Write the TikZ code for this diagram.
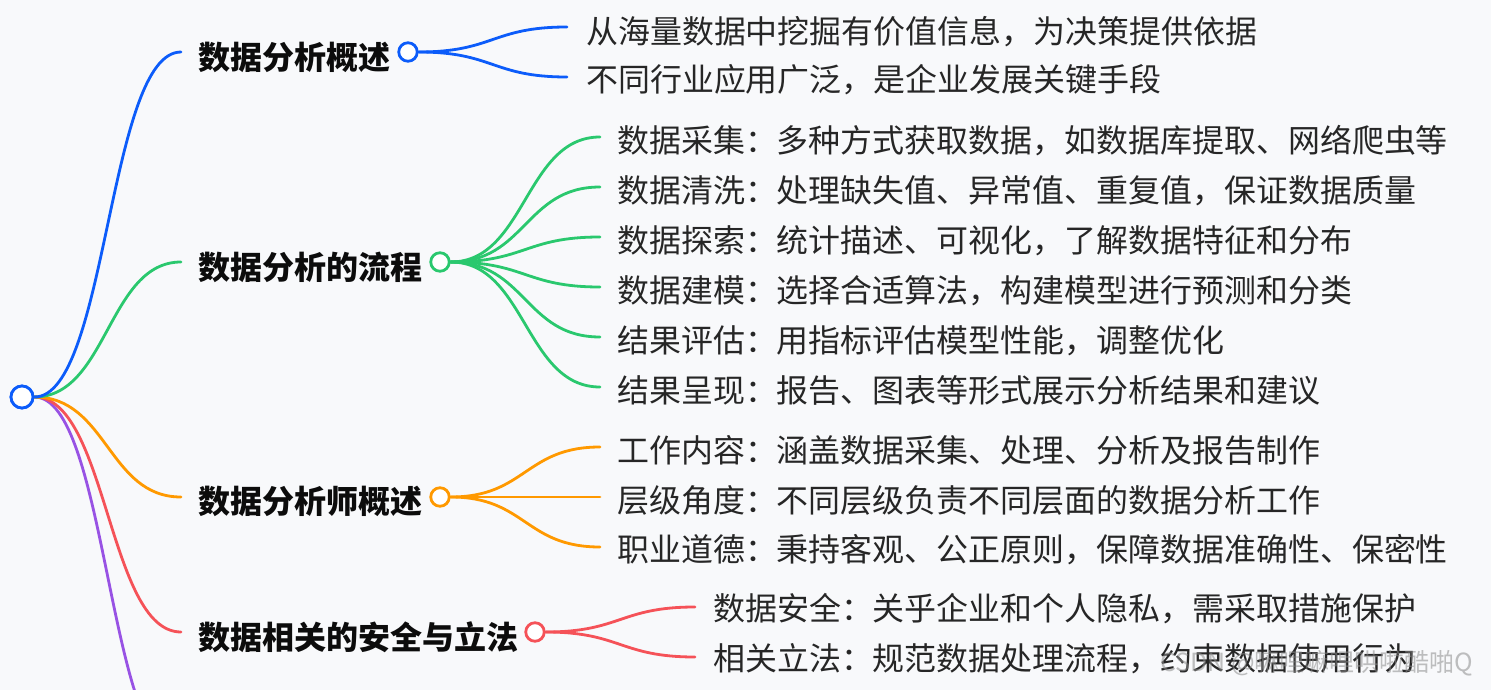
\documentclass[tikz,border=0pt]{standalone}
\usepackage{fontspec}
\setmainfont{Noto Sans CJK SC}
\definecolor{bg}{RGB}{248,249,251}
\definecolor{cblue}{RGB}{12,92,250}
\definecolor{cgreen}{RGB}{42,200,110}
\definecolor{corange}{RGB}{255,153,0}
\definecolor{cred}{RGB}{245,82,88}
\definecolor{cpurple}{RGB}{152,82,228}
\definecolor{labc}{RGB}{12,12,12}
\definecolor{leafc}{RGB}{38,38,38}
\begin{document}
\begin{tikzpicture}[x=1pt,y=-1pt,
  link/.style={line width=2.8pt, line cap=round},
  dot/.style={circle, draw, fill=white, line width=2.8pt, minimum size=18.5pt, inner sep=0pt},
  lab/.style={anchor=base west, inner sep=0pt, text=labc, font=\fontsize{32}{32}\selectfont\bfseries},
  leafa/.style={anchor=base west, inner sep=0pt, text=leafc, font=\fontsize{31.95}{32}\selectfont},
  wm/.style={anchor=west, inner sep=0pt, text=black!45, opacity=0.55, font=\fontsize{25}{25}\selectfont}]
\fill[bg] (0,0) rectangle (1491,690);
\useasboundingbox (0,0) rectangle (1491,690);
\clip (0,0) rectangle (1491,690);

% root
\node[dot, draw=cblue, minimum size=22pt] (r) at (22,397) {};

% branch labels and circles
\node[lab] (l1) at (198,69.2) {数据分析概述};
\node[lab] (l2) at (198,279.2) {数据分析的流程};
\node[lab] (l3) at (198,513.2) {数据分析师概述};
\node[lab] (l4) at (198,649.2) {数据相关的安全与立法};

\coordinate (e1) at (181,52);
\coordinate (e2) at (181,262);
\coordinate (e3) at (181,497);
\coordinate (e4) at (181,632);
\coordinate (e5) at (181,756);

\draw[link,cpurple] (r.east) .. controls +(73,0) and +(-73,0) .. (e5);
\draw[link,cred] (r.east) .. controls +(73,0) and +(-73,0) .. (e4);
\draw[link,corange] (r.east) .. controls +(73,0) and +(-73,0) .. (e3);
\draw[link,cgreen] (r.east) .. controls +(73,0) and +(-73,0) .. (e2);
\draw[link,cblue] (r.east) .. controls +(73,0) and +(-73,0) .. (e1);
\node[dot, draw=cblue, minimum size=22pt] at (r) {};

\node[dot, draw=cblue] (c1) at (408,52) {};
\node[dot, draw=cgreen] (c2) at (440,262) {};
\node[dot, draw=corange] (c3) at (440,497) {};
\node[dot, draw=cred] (c4) at (535,632) {};

% branch 1 children
\coordinate (a1) at (567,27);
\coordinate (a2) at (567,77);
\draw[link,cblue] (c1.east) .. controls +(75,0) and +(-75,0) .. (a1);
\draw[link,cblue] (c1.east) .. controls +(75,0) and +(-75,0) .. (a2);
\node[leafa] (t11) at (586,43.2) {从海量数据中挖掘有价值信息，为决策提供依据};
\node[leafa] (t12) at (586,91.2) {不同行业应用广泛，是企业发展关键手段};

% branch 2 children
\foreach \i/\y in {1/137,2/187,3/237,4/287,5/337,6/387}{
  \coordinate (g\i) at (600,\y);
  \draw[link,cgreen] (c2.east) .. controls +(75,0) and +(-75,0) .. (g\i);
}
\node[leafa] (t21) at (617,152.4) {数据采集：多种方式获取数据，如数据库提取、网络爬虫等};
\node[leafa] (t22) at (617,202.4) {数据清洗：处理缺失值、异常值、重复值，保证数据质量};
\node[leafa] (t23) at (617,252.4) {数据探索：统计描述、可视化，了解数据特征和分布};
\node[leafa] (t24) at (617,302.4) {数据建模：选择合适算法，构建模型进行预测和分类};
\node[leafa] (t25) at (617,352.4) {结果评估：用指标评估模型性能，调整优化};
\node[leafa] (t26) at (617,402.4) {结果呈现：报告、图表等形式展示分析结果和建议};

% branch 3 children
\foreach \i/\y in {1/447,2/497,3/547}{
  \coordinate (o\i) at (600,\y);
  \draw[link,corange] (c3.east) .. controls +(75,0) and +(-75,0) .. (o\i);
}
\node[leafa] (t31) at (617,462.4) {工作内容：涵盖数据采集、处理、分析及报告制作};
\node[leafa] (t32) at (617,512.4) {层级角度：不同层级负责不同层面的数据分析工作};
\node[leafa] (t33) at (617,561.4) {职业道德：秉持客观、公正原则，保障数据准确性、保密性};

% branch 4 children
\coordinate (d1) at (695,607);
\coordinate (d2) at (695,657);
\draw[link,cred] (c4.east) .. controls +(75,0) and +(-75,0) .. (d1);
\draw[link,cred] (c4.east) .. controls +(75,0) and +(-75,0) .. (d2);
\node[leafa] (t41) at (713,620.2) {数据安全：关乎企业和个人隐私，需采取措施保护};
\node[leafa] (t42) at (713,670.2) {相关立法：规范数据处理流程，约束数据使用行为};

% watermark
\node[wm] (w) at (1160,663) {CSDN @嘛哩嘛哩哄啦酷啪Q};
\end{tikzpicture}
\end{document}
